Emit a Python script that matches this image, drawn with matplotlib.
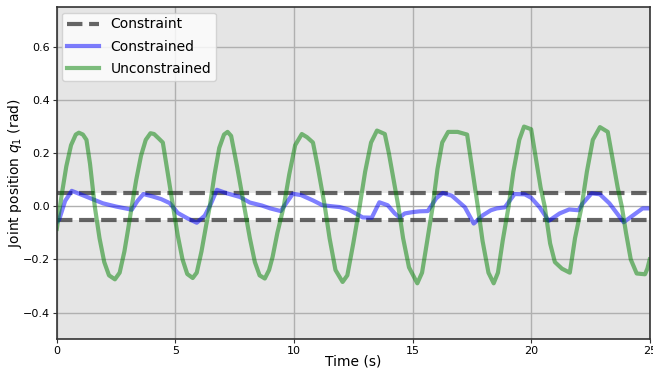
import matplotlib
matplotlib.use("Agg")
import matplotlib.pyplot as plt

# Unconstrained joint position (green)
t_unc = [0.0, 0.2, 0.4, 0.6, 0.8, 0.93, 1.1, 1.25, 1.4, 1.6, 1.8, 2.0, 2.2, 2.45, 2.65, 2.85, 3.0, 3.16,
         3.35, 3.55, 3.75, 3.95, 4.1, 4.3, 4.47, 4.65, 4.9, 5.1, 5.3, 5.5, 5.73, 5.9, 6.1, 6.3, 6.45,
         6.65, 6.85, 7.05, 7.2, 7.35, 7.6, 7.8, 8.0, 8.14, 8.35, 8.55, 8.77, 8.95, 9.1, 9.3, 9.57,
         9.8, 10.05, 10.33, 10.55, 10.8, 11.0, 11.3, 11.5, 11.75, 12.05, 12.25, 12.5, 12.77,
         13.0, 13.25, 13.5, 13.83, 14.0, 14.2, 14.4, 14.6, 14.85, 15.2, 15.4, 15.6, 15.85,
         16.05, 16.25, 16.5, 16.9, 17.3, 17.5, 17.75, 17.95, 18.2, 18.42, 18.6, 18.8, 19.05,
         19.25, 19.5, 19.7, 20.0, 20.2, 20.4, 20.57, 20.8, 21.0, 21.3, 21.63, 21.85, 22.13,
         22.35, 22.6, 22.9, 23.23, 23.45, 23.65, 23.82, 24.0, 24.2, 24.45, 24.8, 24.9, 25.0]
q_unc = [-0.085, 0.04, 0.15, 0.23, 0.27, 0.277, 0.27, 0.25, 0.16, 0.0, -0.12, -0.21, -0.26, -0.275, -0.25, -0.17, -0.09, 0.0,
         0.1, 0.19, 0.25, 0.275, 0.272, 0.255, 0.24, 0.14, 0.0, -0.11, -0.2, -0.255, -0.27, -0.25, -0.17, -0.07, 0.0,
         0.12, 0.22, 0.27, 0.28, 0.265, 0.15, 0.05, -0.05, -0.12, -0.21, -0.26, -0.272, -0.24, -0.19, -0.1, 0.0,
         0.12, 0.23, 0.272, 0.26, 0.24, 0.15, 0.0, -0.12, -0.24, -0.285, -0.26, -0.14, 0.0,
         0.13, 0.24, 0.285, 0.272, 0.2, 0.1, 0.0, -0.12, -0.23, -0.29, -0.25, -0.14, 0.0,
         0.14, 0.24, 0.28, 0.28, 0.27, 0.15, 0.0, -0.13, -0.25, -0.29, -0.25, -0.13, 0.0,
         0.13, 0.25, 0.30, 0.29, 0.18, 0.07, 0.0, -0.14, -0.21, -0.235, -0.25, -0.12, 0.0,
         0.13, 0.25, 0.298, 0.28, 0.17, 0.07, 0.0, -0.1, -0.2, -0.253, -0.256, -0.235, -0.2]

# Constrained joint position (blue)
t_con = [0.0, 0.1, 0.35, 0.63, 1.0, 1.5, 1.95, 2.5, 3.0, 3.16, 3.4, 3.65, 4.0, 4.4, 4.76, 5.1, 5.5, 5.9,
         6.24, 6.5, 6.75, 7.2, 7.72, 8.14, 8.64, 9.0, 9.44, 9.95, 10.3, 10.8, 11.2, 11.6, 11.93,
         12.3, 12.9, 13.28, 13.5, 13.6, 13.95, 14.25, 14.46, 14.67, 15.0, 15.3, 15.64, 16.0,
         16.27, 16.65, 17.2, 17.58, 17.96, 18.3, 18.55, 18.89, 19.3, 19.73, 20.0, 20.36, 20.74,
         21.2, 21.6, 22.0, 22.15, 22.55, 22.9, 23.3, 23.9, 24.3, 24.7, 25.0]
q_con = [-0.06, -0.05, 0.02, 0.058, 0.045, 0.027, 0.011, -0.001, -0.01, -0.013, 0.02, 0.046, 0.038, 0.027, 0.012, -0.025, -0.045, -0.062,
         -0.035, 0.01, 0.062, 0.048, 0.035, 0.014, 0.003, -0.008, -0.018, 0.047, 0.042, 0.022, 0.004, 0.0, -0.003,
         -0.012, -0.042, -0.043, -0.003, 0.015, 0.004, -0.027, -0.042, -0.027, -0.022, -0.019, -0.018, 0.03,
         0.05, 0.04, -0.003, -0.065, -0.034, -0.015, -0.008, -0.004, 0.046, 0.045, 0.032, -0.004, -0.055,
         -0.027, -0.012, -0.015, 0.008, 0.049, 0.045, 0.011, -0.06, -0.034, -0.008, -0.008]

# Constraint bounds
q_bounds = [0.05, -0.05]
t_range = [0, 25]

x_ticks = [0, 5, 10, 15, 20, 25]
y_ticks = [-0.4, -0.2, 0.0, 0.2, 0.4, 0.6]

fig = plt.figure(figsize=(6.53, 3.71), dpi=100)
ax = fig.add_axes([0.087, 0.086, 0.908, 0.895])
ax.set_facecolor('#e5e5e5')
ax.axhspan(q_bounds[1], q_bounds[0], facecolor='white', edgecolor='none', zorder=1)
ax.grid(True, color='#b0b0b0', lw=1.0, zorder=1.5)

ax.plot(t_range, [q_bounds[0]] * 2, color='#333333', alpha=0.75, ls='--', lw=3.0,
        label='Constraint', zorder=2)
ax.plot(t_range, [q_bounds[1]] * 2, color='#333333', alpha=0.75, ls='--', lw=3.0, zorder=2)
ax.plot(t_con, q_con, color='blue', alpha=0.5, lw=3, label='Constrained', zorder=3)
ax.plot(t_unc, q_unc, color='green', alpha=0.5, lw=3, label='Unconstrained', zorder=3)

ax.set_xlim(0, 25)
ax.set_ylim(-0.5, 0.75)
ax.set_xticks(x_ticks)
ax.set_yticks(y_ticks)
ax.tick_params(labelsize=8, direction='out', length=3, pad=2, color='#333333')
for s in ax.spines.values():
    s.set_color('#333333')
    s.set_linewidth(1.2)
    s.set_zorder(4)
ax.set_xlabel('Time (s)', fontsize=10)
ax.set_ylabel('Joint position $q_1$ (rad)', fontsize=10)
ax.xaxis.set_label_coords(0.5, -0.045)
ax.yaxis.set_label_coords(-0.055, 0.5)
leg = ax.legend(loc='upper left', fontsize=10, framealpha=0.8, borderaxespad=0.4,
                handlelength=2.3, labelspacing=0.6, borderpad=0.35)

fig.savefig('out.png', dpi=100)
